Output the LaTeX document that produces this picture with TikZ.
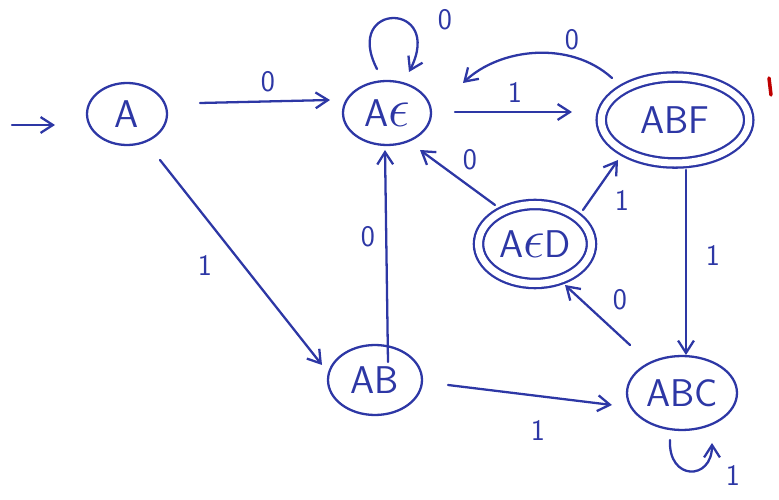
\documentclass[tikz,border=0pt]{standalone}
\usetikzlibrary{shapes.geometric,arrows.meta}
\definecolor{ink}{RGB}{45,55,165}
\newcommand{\bigeps}{\scalebox{1.5}{$\epsilon$}}
\begin{document}
\begin{tikzpicture}[x=0.02cm,y=-0.02cm,
  ink line/.style={draw=ink,line width=1.3pt,line cap=round},
  arr/.style={ink line,-{Straight Barb[length=7pt,width=9pt,line width=1.3pt]}},
  state/.style={ellipse,ink line,inner sep=0pt,text=ink,font=\fontsize{22}{26}\sffamily},
  accept/.style={state,double=white,double distance=4pt},
  lbl/.style={text=ink,font=\fontsize{17}{20}\sffamily,inner sep=1pt}]
\useasboundingbox (0,0) rectangle (779,500);
% states
\node[state,minimum width=1.6cm,minimum height=1.24cm] (A) at (127,114) {A};
\node[state,minimum width=1.76cm,minimum height=1.28cm] (AE) at (387,113) {A\bigeps};
\node[accept,minimum width=2.95cm,minimum height=1.72cm] (ABF) at (675,120) {ABF};
\node[accept,minimum width=2.26cm,minimum height=1.58cm] (AED) at (535,244) {A\bigeps D};
\node[state,minimum width=1.88cm,minimum height=1.4cm] (AB) at (375,380) {AB};
\node[state,minimum width=2.2cm,minimum height=1.48cm] (ABC) at (682,393) {ABC};
% start
\coordinate (start) at (12,125);
\draw[arr] (start) -- ([shift={(-72,11)}]A.center);
% transitions
\draw[arr] ([shift={(73,-11)}]A.center) -- ([shift={(-57,-13)}]AE.center);
\draw[arr] ([shift={(-10,-44)}]AE.center) .. controls ([shift={(-45,-112)}]AE.center) and ([shift={(58,-112)}]AE.center) .. ([shift={(22,-41)}]AE.center);
\draw[arr] ([shift={(68,-1)}]AE.center) -- ([shift={(-103,-8)}]ABF.center);
\draw[arr] ([shift={(-63,-42)}]ABF.center) .. controls ([shift={(-105,-80)}]ABF.center) and ([shift={(-175,-72)}]ABF.center) .. ([shift={(-212,-37)}]ABF.center);
\draw[arr] ([shift={(-40,-39)}]AED.center) -- ([shift={(33,37)}]AE.center);
\draw[arr] ([shift={(48,-34)}]AED.center) -- ([shift={(-57,40)}]ABF.center);
\draw[arr] ([shift={(11,50)}]ABF.center) -- ([shift={(4,-38)}]ABC.center);
\draw[arr] ([shift={(-52,-48)}]ABC.center) -- ([shift={(30,41)}]AED.center);
\draw[arr] ([shift={(13,-18)}]AB.center) -- ([shift={(-2,37)}]AE.center);
\draw[arr] ([shift={(33,46)}]A.center) -- ([shift={(-53,-15)}]AB.center);
\draw[arr] ([shift={(73,5)}]AB.center) -- ([shift={(-70,12)}]ABC.center);
\draw[arr] ([shift={(-12,47)}]ABC.center) .. controls ([shift={(-14,88)}]ABC.center) and ([shift={(30,88)}]ABC.center) .. ([shift={(30,50)}]ABC.center);
% labels
\node[lbl] (l1) at (268,82) {0};
\node[lbl] (l2) at (445,20) {0};
\node[lbl] (l3) at (515,92) {1};
\node[lbl] (l4) at (572,40) {0};
\node[lbl] (l5) at (470,160) {0};
\node[lbl] (l6) at (622,200) {1};
\node[lbl] (l7) at (713,255) {1};
\node[lbl] (l8) at (620,300) {0};
\node[lbl] (l9) at (368,237) {0};
\node[lbl] (l10) at (205,265) {1};
\node[lbl] (l11) at (538,430) {1};
\node[lbl] (l12) at (733,475) {1};
% stray red mark
\draw[draw=red!75!black,line width=2pt,line cap=round] (769,78) -- (771,95);
\end{tikzpicture}
\end{document}
